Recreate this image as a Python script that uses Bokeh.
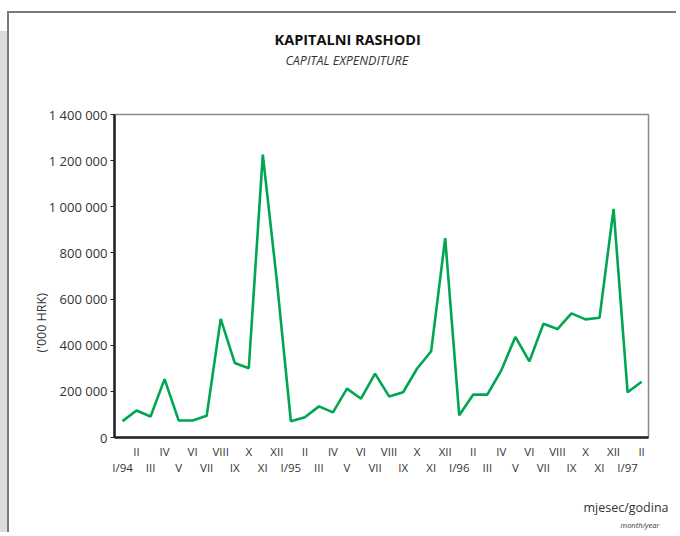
from bokeh.plotting import figure
from bokeh.models import FixedTicker, Title, Range1d
from bokeh.embed import file_html
from bokeh.resources import INLINE

# ---- data ----
month_labels = ["I/94", "II", "III", "IV", "V", "VI", "VII", "VIII", "IX", "X", "XI", "XII",
                "I/95", "II", "III", "IV", "V", "VI", "VII", "VIII", "IX", "X", "XI", "XII",
                "I/96", "II", "III", "IV", "V", "VI", "VII", "VIII", "IX", "X", "XI", "XII",
                "I/97", "II"]
capital_expenditure = [71000, 117000, 91000, 253000, 74000, 74000, 94000, 514000, 323000, 300000, 1226000, 680000,
                       70000, 88000, 135000, 109000, 212000, 168000, 277000, 178000, 196000, 299000, 374000, 864000,
                       96000, 186000, 186000, 291000, 436000, 330000, 493000, 470000, 538000, 512000, 519000, 991000,
                       196000, 242000]
y_ticks = [0, 200000, 400000, 600000, 800000, 1000000, 1200000, 1400000]
y_tick_labels = ["0", "200 000", "400 000", "600 000", "800 000", "1 000 000", "1 200 000", "1 400 000"]

FONT = "Open Sans"
TXT = "#333333"

x_idx = list(range(len(month_labels)))

p = figure(width=669, height=521, output_backend="svg", toolbar_location=None,
           x_range=Range1d(-0.57, 37.49), y_range=Range1d(0, 1400000),
           min_border_left=105, min_border_right=30, min_border_top=101, min_border_bottom=97)
p.styles = {"border-left": "2px solid #7a7a7a", "border-top": "2px solid #7a7a7a",
            "margin-top": "11px", "margin-left": "7px",
            "box-shadow": "-17px 10px 0 -10px #dcdcdc"}
p.background_fill_color = "white"
p.border_fill_color = "white"
p.grid.visible = False
p.outline_line_color = "#8a8a8a"
p.outline_line_width = 1.5

p.line(x_idx, capital_expenditure, line_color="#00a651", line_width=2.6)

# y axis
p.yaxis.ticker = FixedTicker(ticks=y_ticks)
p.yaxis.major_label_overrides = {t: l for t, l in zip(y_ticks, y_tick_labels)}
p.yaxis.major_tick_in = 0
p.yaxis.major_tick_out = 4
p.yaxis.minor_tick_line_color = None
p.yaxis.axis_line_width = 2.5
p.yaxis.axis_line_color = "#222222"
p.yaxis.major_tick_line_color = "#222222"
p.yaxis.major_label_text_font = FONT
p.yaxis.major_label_text_font_size = "13px"
p.yaxis.major_label_text_color = TXT
p.yaxis.major_label_standoff = 3

# x axis: alternating two rows
xl = {}
for i, lab in enumerate(month_labels):
    xl[i] = (lab + "\n ") if i % 2 == 1 else (" \n" + lab)
p.xaxis.ticker = FixedTicker(ticks=x_idx)
p.xaxis.major_label_overrides = xl
p.xaxis.major_tick_in = 0
p.xaxis.major_tick_out = 0
p.xaxis.minor_tick_line_color = None
p.xaxis.axis_line_width = 2.5
p.xaxis.axis_line_color = "#222222"
p.xaxis.major_label_text_font = FONT
p.xaxis.major_label_text_font_size = "11.5px"
p.xaxis.major_label_text_color = TXT
p.xaxis.major_label_text_line_height = 1.07
p.xaxis.major_label_standoff = 6


def spacer(gap):
    return Title(text=" ", text_font_size="1px", standoff=gap)


# titles above (stacked outward from the frame)
p.add_layout(spacer(43), "above")
p.add_layout(Title(text="CAPITAL EXPENDITURE", align="left", offset=171, standoff=0,
                   text_font=FONT, text_font_size="12.5px", text_font_style="italic",
                   text_color=TXT), "above")
p.add_layout(Title(text="KAPITALNI RASHODI", align="left", offset=160, standoff=2,
                   text_font=FONT, text_font_size="14.5px", text_font_style="bold",
                   text_color="#111111"), "above")
# y-axis unit label
p.add_layout(Title(text="('000 HRK)", align="left", offset=85, standoff=-9,
                   text_font=FONT, text_font_size="12.5px", text_font_style="normal",
                   text_color=TXT), "left")
# x-axis caption below
p.add_layout(spacer(18), "below")
p.add_layout(Title(text="mjesec/godina", align="right", offset=-20, standoff=0, vertical_align="top",
                   text_font=FONT, text_font_size="12.5px", text_font_style="normal",
                   text_color=TXT), "below")
p.add_layout(Title(text="month/year", align="right", offset=-11, standoff=4, vertical_align="top",
                   text_font=FONT, text_font_size="7.5px", text_font_style="italic",
                   text_color=TXT), "below")

open("out.html", "w").write(file_html(p, INLINE))
